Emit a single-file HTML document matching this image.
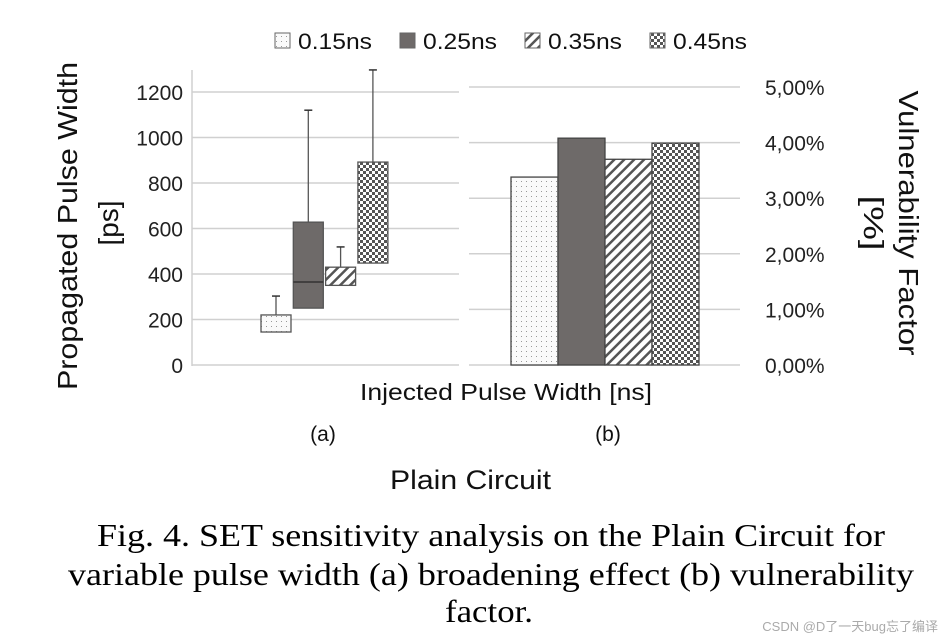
<!DOCTYPE html>
<html><head><meta charset="utf-8"><style>
body{margin:0;background:#fff;width:944px;height:639px;overflow:hidden}
svg{display:block}
</style></head><body>
<svg id="c" width="944" height="639" xmlns="http://www.w3.org/2000/svg" font-family="'Liberation Sans', sans-serif">
<defs>
<pattern id="pDot" width="5" height="5" patternUnits="userSpaceOnUse"><rect width="5" height="5" fill="#fafafa"/><rect x="1" y="1" width="1" height="1" fill="#999"/></pattern>
<pattern id="pDiag" width="7" height="7" patternUnits="userSpaceOnUse" patternTransform="rotate(45)"><rect width="7" height="7" fill="#fff"/><rect width="2.5" height="7" fill="#555"/></pattern>
<pattern id="pChk" width="6" height="6" patternUnits="userSpaceOnUse"><rect width="6" height="6" fill="#fff"/><rect width="3" height="3" fill="#555"/><rect x="3" y="3" width="3" height="3" fill="#555"/></pattern>
</defs>
<g id="legend"></g>
<g id="left"></g>
<g id="right"></g>
<g font-size="28" fill="#111" text-anchor="middle">
<text transform="translate(77,226) rotate(-90)" textLength="328" lengthAdjust="spacingAndGlyphs">Propagated Pulse Width</text>
<text transform="translate(118,223) rotate(-90)" textLength="45" lengthAdjust="spacingAndGlyphs">[ps]</text>
<text transform="translate(899,223) rotate(90)" textLength="265" lengthAdjust="spacingAndGlyphs">Vulnerability Factor</text>
<text transform="translate(864,223) rotate(90)" textLength="55" lengthAdjust="spacingAndGlyphs">[%]</text>
</g>
<text x="360" y="400" font-size="23" fill="#111" textLength="292" lengthAdjust="spacingAndGlyphs">Injected  Pulse Width [ns]</text>
<text x="323" y="441" font-size="21" fill="#111" text-anchor="middle">(a)</text>
<text x="608" y="441" font-size="21" fill="#111" text-anchor="middle">(b)</text>
<text x="390" y="489" font-size="27" fill="#111" textLength="161" lengthAdjust="spacingAndGlyphs">Plain Circuit</text>
<g font-family="'Liberation Serif', serif" font-size="32" fill="#000">
<text x="97" y="546" textLength="788" lengthAdjust="spacingAndGlyphs">Fig. 4. SET sensitivity analysis on the Plain Circuit for</text>
<text x="68" y="585" textLength="846" lengthAdjust="spacingAndGlyphs">variable pulse width (a) broadening effect (b) vulnerability</text>
<text x="445" y="622" textLength="88" lengthAdjust="spacingAndGlyphs">factor.</text>
</g>
<text x="938" y="631" font-size="13" fill="#aaa" text-anchor="end" font-family="'Liberation Sans','Noto Sans CJK SC',sans-serif">CSDN @D了一天bug忘了编译</text>
</svg>
<script>
const series = ['0.15ns','0.25ns','0.35ns','0.45ns'];
const boxMin = [145, 250, 350, 448];
const boxQ3 = [220, 628, 430, 892];
const boxMedian = [null, 365, null, null];
const boxMax = [303, 1120, 519, 1297];
const leftTicks = [0,200,400,600,800,1000,1200];
const vfValues = [3.38, 4.08, 3.70, 3.99];
const rightTicks = [0,1,2,3,4,5];
const rightTickLabels = ['0,00%','1,00%','2,00%','3,00%','4,00%','5,00%'];
const fills = ['url(#pDot)','#6e6a69','url(#pDiag)','url(#pChk)'];

const NS='http://www.w3.org/2000/svg';
function mk(parent,tag,attrs){const e=document.createElementNS(NS,tag);for(const k in attrs)e.setAttribute(k,attrs[k]);parent.appendChild(e);return e;}
const yL=v=>365-v*(273/1200);
const yR=v=>365-v*(278/5);

const L=document.getElementById('left');
leftTicks.forEach((t,i)=>{
  const g=mk(L,'line',{x1:192,x2:459,y1:yL(t),y2:yL(t),stroke:'#d0d0d0','stroke-width':1.5});
  
  
  const tx=mk(L,'text',{x:183,y:yL(t)+8,'font-size':21,fill:'#222','text-anchor':'end'});
  tx.textContent=t;
  
  
});
const ax=mk(L,'line',{x1:192,x2:192,y1:70,y2:366,stroke:'#d0d0d0','stroke-width':1.5});


const bx0=261, bw=30, bstep=32.3;
series.forEach((s,i)=>{
  const x=bx0+i*bstep, cx=x+bw/2;
  const w=mk(L,'line',{x1:cx,x2:cx,y1:yL(boxMax[i]),y2:yL(boxQ3[i]),stroke:'#555','stroke-width':1.3});
  
  
  const cap=mk(L,'line',{x1:cx-4,x2:cx+4,y1:yL(boxMax[i]),y2:yL(boxMax[i]),stroke:'#333','stroke-width':1.5});
  
  
  const r=mk(L,'rect',{x:x,y:yL(boxQ3[i]),width:bw,height:yL(boxMin[i])-yL(boxQ3[i]),fill:fills[i],stroke:'#555','stroke-width':1.3});
  
  
  if(boxMedian[i]!=null){
    const m=mk(L,'line',{x1:x,x2:x+bw,y1:yL(boxMedian[i]),y2:yL(boxMedian[i]),stroke:'#333','stroke-width':1.5});
    
    
  }
});

const R=document.getElementById('right');
rightTicks.forEach((t,i)=>{
  const g=mk(R,'line',{x1:469,x2:740,y1:yR(t),y2:yR(t),stroke:'#d0d0d0','stroke-width':1.5});
  
  
  const tx=mk(R,'text',{x:765,y:yR(t)+8,'font-size':21,fill:'#222'});
  tx.textContent=rightTickLabels[i];
  
  
});
const rx0=511, rw=47;
series.forEach((s,i)=>{
  const b=mk(R,'rect',{x:rx0+i*rw,y:yR(vfValues[i]),width:rw,height:yR(0)-yR(vfValues[i]),fill:fills[i],stroke:'#444','stroke-width':1.3});
  
  
});

const LG=document.getElementById('legend');
series.forEach((s,i)=>{
  const x=275+i*125;
  const sw=mk(LG,'rect',{x:x,y:33,width:15,height:15,fill:fills[i],stroke:'#666','stroke-width':1});
  
  
  const t=mk(LG,'text',{x:x+23,y:49,'font-size':22,fill:'#111',textLength:74,lengthAdjust:'spacingAndGlyphs'});
  t.textContent=s;
  
  
});
</script>
</body></html>
